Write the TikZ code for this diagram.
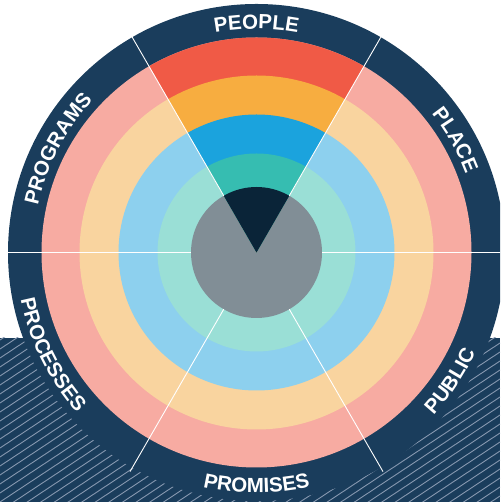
\documentclass[tikz,border=0pt]{standalone}
\usepackage{fontspec}
\usetikzlibrary{decorations.text}
\newfontfamily\lblfam{Liberation Sans}
\newcommand\lblfont{\lblfam\bfseries\fontsize{20.5}{24}\selectfont}
\definecolor{navy}{HTML}{1A3D5C}
\definecolor{hatchc}{HTML}{8798B0}
\definecolor{pinkc}{HTML}{F7ABA2}
\definecolor{peachc}{HTML}{F9D49F}
\definecolor{lbluec}{HTML}{8DD0EE}
\definecolor{ltealc}{HTML}{9ADFD6}
\definecolor{grayc}{HTML}{818E96}
\definecolor{redc}{HTML}{F05A46}
\definecolor{orangec}{HTML}{F7AD40}
\definecolor{bluec}{HTML}{1BA3DD}
\definecolor{tealc}{HTML}{36BDB1}
\definecolor{darkc}{HTML}{0A2438}
\tikzset{
  hatchline/.style={draw=hatchc, line width=0.9pt},
  divider/.style={draw=white, line width=0.9pt},
  lbl/.style={decorate, decoration={text along path, text={|\lblfont|#1}, text align=center, text color=white}}
}
\begin{document}
\begin{tikzpicture}[x=1pt,y=1pt]
\useasboundingbox (0,0) rectangle (500,502);
\clip (0,0) rectangle (500,502);
\coordinate (c) at (256.5,249.5);
% hatched band behind the wheel
\fill[navy] (0,0) rectangle (500,164);
\begin{scope}
  \clip (0,0) rectangle (500,164);
  \foreach \b in {-360,-351,...,170} \draw[hatchline] (0,\b) -- (500,\b+330);
\end{scope}
% rings
\fill[navy] (c) circle[radius=248.5];
\fill[pinkc] (c) circle[radius=215];
\fill[peachc] (c) circle[radius=177];
\fill[lbluec] (c) circle[radius=138];
\fill[ltealc] (c) circle[radius=99];
\fill[grayc] (c) circle[radius=65.5];
% highlighted sector
\foreach \r/\col in {215/redc,177/orangec,138/bluec,99/tealc,65.5/darkc}
  \fill[\col] (c) -- ([shift={(60:\r)}]c) arc[start angle=60,end angle=120,radius=\r] -- cycle;
% dividers
\foreach \a in {0,60,...,300}
  \draw[divider] ([shift={(\a:65.5)}]c) -- ([shift={(\a:253)}]c);
% labels
\path[lbl=PEOPLE] ([shift={(120:223.5)}]c) arc[start angle=120,end angle=60,radius=223.5];
\path[lbl=PLACE] ([shift={(59.5:223.5)}]c) arc[start angle=59.5,end angle=-0.5,radius=223.5];
\path[lbl=PROGRAMS] ([shift={(182.5:223.5)}]c) arc[start angle=182.5,end angle=122.5,radius=223.5];
\path[lbl=PROCESSES] ([shift={(176.5:240.5)}]c) arc[start angle=176.5,end angle=236.5,radius=240.5];
\path[lbl=PROMISES] ([shift={(240:240.5)}]c) arc[start angle=240,end angle=300,radius=240.5];
\path[lbl=PUBLIC] ([shift={(296.5:240.5)}]c) arc[start angle=296.5,end angle=356.5,radius=240.5];
\end{tikzpicture}
\end{document}
